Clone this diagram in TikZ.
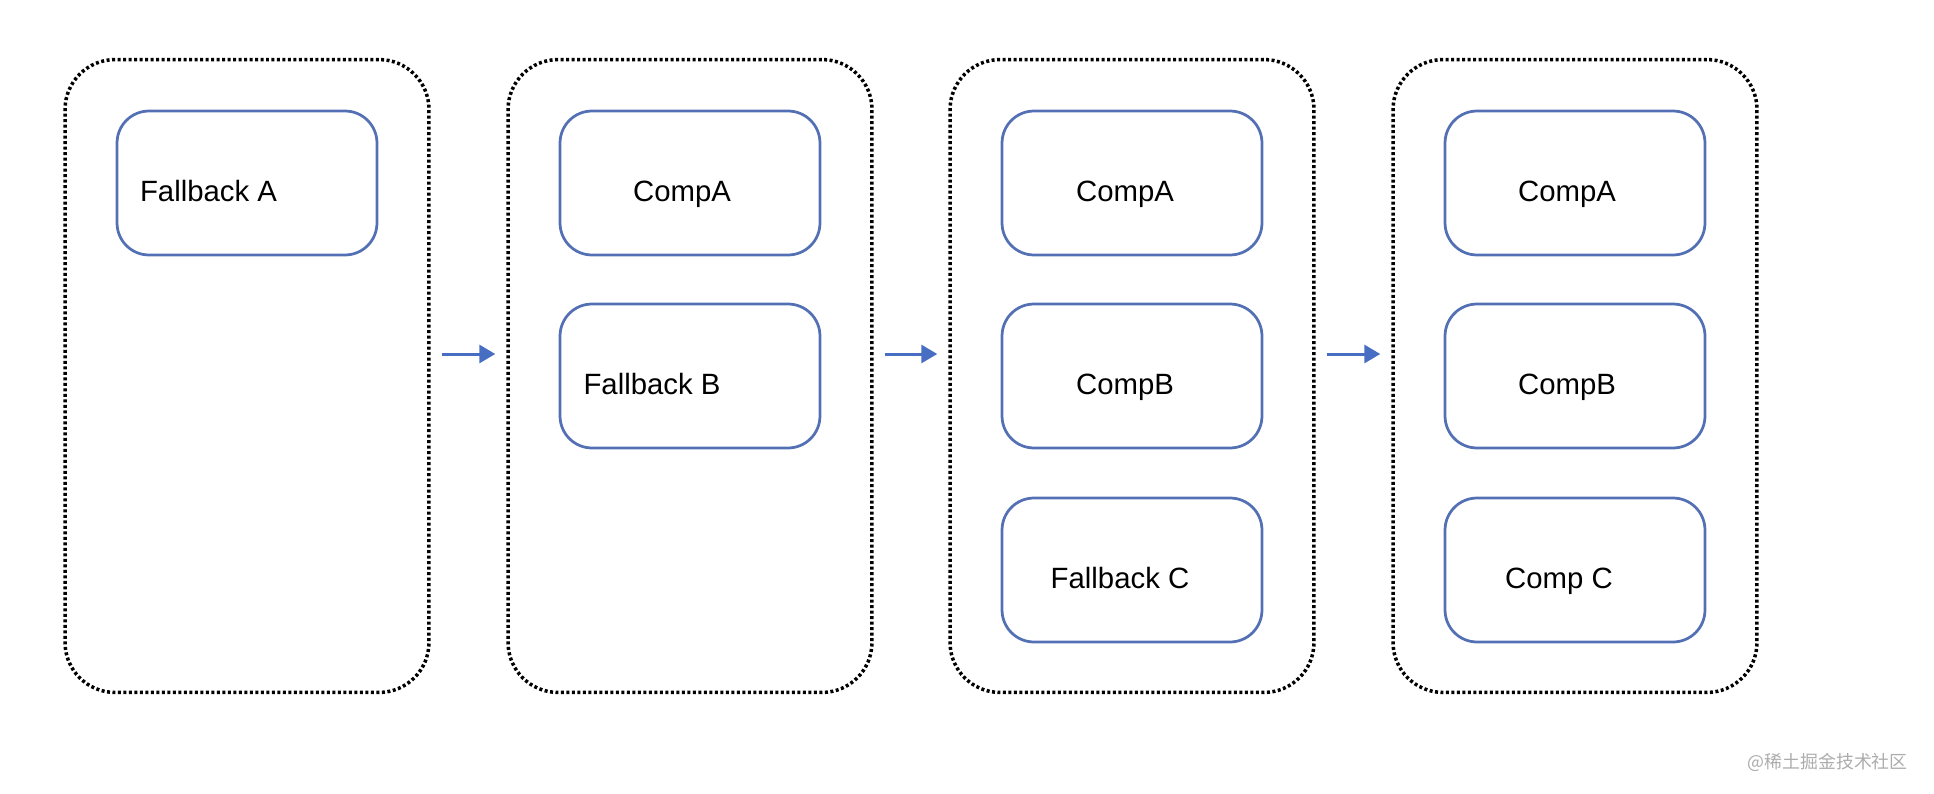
\documentclass[tikz,border=0pt]{standalone}
\usepackage{fontspec}
\setmainfont{Liberation Sans}
\newfontfamily\cjk{Noto Sans CJK SC}
\usetikzlibrary{arrows.meta}
\definecolor{boxblue}{RGB}{84,112,180}
\definecolor{arrblue}{RGB}{72,110,196}

\begin{document}
\begin{tikzpicture}[x=0.02cm, y=-0.02cm,
        stage/.style={draw, line width=0.07cm, dash pattern=on 0.06cm off 0.05cm, rounded corners=1cm, minimum width=7.28cm, minimum height=12.66cm},
        comp/.style={draw=boxblue, line width=0.055cm, rounded corners=0.64cm, minimum width=5.2cm, minimum height=2.88cm},
        lbl/.style={anchor=base, font=\fontsize{16.7}{20}\selectfont},
        flow/.style={draw=arrblue, line width=0.06cm, -{Triangle[length=0.32cm,width=0.36cm]}, shorten <=0.22cm, shorten >=0.22cm}]
        \useasboundingbox (0,0) rectangle (1934,794);

        \foreach \i/\x in {1/247,2/690,3/1132,4/1575} {
            \node[stage] (s\i) at (\x,376) {};
        }
        \foreach \i in {1,2,3} {
            \pgfmathtruncatemacro\j{\i+1}
            \draw[flow] ([yshift=0.44cm]s\i.east) -- ([yshift=0.44cm]s\j.west);
        }

        \node[comp] (fa) at (247,183) {};
        \node[lbl] (fa-t) at ([xshift=-0.77cm,yshift=-0.37cm]fa) {Fallback A};

        \node[comp] (ca2) at (690,183) {};
        \node[comp] (fb) at (690,376) {};
        \node[lbl] (ca2-t) at ([xshift=-0.16cm,yshift=-0.37cm]ca2) {CompA};
        \node[lbl] (fb-t) at ([xshift=-0.76cm,yshift=-0.37cm]fb) {Fallback B};

        \node[comp] (ca3) at (1132,183) {};
        \node[comp] (cb3) at (1132,376) {};
        \node[comp] (fc) at (1132,570) {};
        \node[lbl] (ca3-t) at ([xshift=-0.14cm,yshift=-0.37cm]ca3) {CompA};
        \node[lbl] (cb3-t) at ([xshift=-0.14cm,yshift=-0.37cm]cb3) {CompB};
        \node[lbl] (fc-t) at ([xshift=-0.24cm,yshift=-0.37cm]fc) {Fallback C};

        \node[comp] (ca4) at (1575,183) {};
        \node[comp] (cb4) at (1575,376) {};
        \node[comp] (cc4) at (1575,570) {};
        \node[lbl] (ca4-t) at ([xshift=-0.16cm,yshift=-0.37cm]ca4) {CompA};
        \node[lbl] (cb4-t) at ([xshift=-0.16cm,yshift=-0.37cm]cb4) {CompB};
        \node[lbl] (cc4-t) at ([xshift=-0.32cm,yshift=-0.37cm]cc4) {Comp C};

        \node[anchor=east, text=gray!65, font=\cjk\fontsize{10.2}{12}\selectfont] (wm) at (1914,762) {@稀土掘金技术社区};
    \end{tikzpicture}
\end{document}
